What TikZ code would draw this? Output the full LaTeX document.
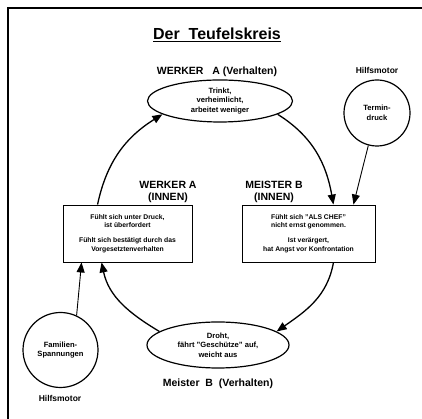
\documentclass[tikz,border=0pt]{standalone}
\usepackage{fontspec}
\setmainfont{Liberation Sans}
\usetikzlibrary{shapes.geometric,arrows.meta,positioning}
\tikzset{
  head/.style={font=\bfseries\fontsize{10.5}{12.5}\selectfont, align=center},
  helper/.style={font=\bfseries\fontsize{8.5}{10}\selectfont},
  inner/.style={font=\bfseries\fontsize{6.8}{8.7}\selectfont, align=center},
  outer/.style={font=\bfseries\fontsize{7.6}{9.5}\selectfont, align=center},
  oval/.style={ellipse, draw, line width=1.2pt, inner sep=0pt, outer, minimum width=#1},
  motor/.style={circle, draw, line width=1.2pt, inner sep=0pt, outer, minimum size=#1},
  feeling/.style={rectangle, draw, line width=0.9pt, inner sep=0pt, inner,
    minimum height=57pt, minimum width=#1},
  loop/.style={line width=1.3pt, -{Triangle[length=10pt,width=8pt]}},
  push/.style={line width=0.9pt, -{Triangle[length=10pt,width=8pt]}}
}
\begin{document}
\begin{tikzpicture}[x=1pt,y=1pt]
  \useasboundingbox (0,0) rectangle (422,419);
  \draw[line width=1.4pt] (8,0) -- (8,411) -- (422,411);

  \node[font=\bfseries\fontsize{16}{18}\selectfont] (title) at (217,384)
    {\underline{Der\ \ Teufelskreis}};

  % Verhalten
  \node[head] (werkerV) at (217,347) {WERKER\ \ \ A (Verhalten)};
  \node[oval=145pt, minimum height=42pt] (topell) at (220,318)
    {Trinkt,\\ verheimlicht,\\ arbeitet weniger};
  \node[oval=142pt, minimum height=46pt] (botell) at (218,74)
    {Droht,\\ f\"ahrt "Gesch\"utze" auf,\\ weicht aus};
  \node[head] (meisterV) at (218,35) {Meister\ \ B\ \ (Verhalten)};

  % Innen
  \node[head] (werkerI) at (168,227) {WERKER A\\(INNEN)};
  \node[head] (meisterI) at (274,227) {MEISTER B\\(INNEN)};
  \node[feeling=129pt] (boxA) at (127.5,185.5)
    {F\"uhlt sich unter Druck,\\ ist \"uberfordert\\[6pt]
     F\"uhlt sich best\"atigt durch das\\ Vorgesetztenverhalten};
  \node[feeling=133pt] (boxB) at (308.5,185.5)
    {F\"uhlt sich "ALS CHEF"\\ nicht ernst genommen.\\[6pt]
     Ist ver\"argert,\\ hat Angst vor Konfrontation};

  % Hilfsmotoren
  \node[helper] (hilfsTop) at (377,349) {Hilfsmotor};
  \node[motor=66pt] (termin) at (377,306) {Termin-\\druck};
  \node[motor=75pt] (famil) at (60.5,69) {Familien-\\Spannungen};
  \node[helper] (hilfsBot) at (60,21) {Hilfsmotor};

  % Kreislauf
  \draw[loop] ([xshift=35pt]boxA.north west) to[out=78,in=212] (topell.193);
  \draw[loop] (topell.-13) to[out=-32,in=100] ([xshift=-42pt]boxB.north east);
  \draw[loop] ([xshift=-42pt]boxB.south east) to[out=-100,in=35] (botell.13);
  \draw[loop] (botell.167) to[out=149,in=-78] ([xshift=39pt]boxA.south west);

  \draw[push] (termin.-105) -- ([xshift=-22pt]boxB.north east);
  \draw[push] (famil.65) -- ([xshift=19pt]boxA.south west);
\end{tikzpicture}
\end{document}
